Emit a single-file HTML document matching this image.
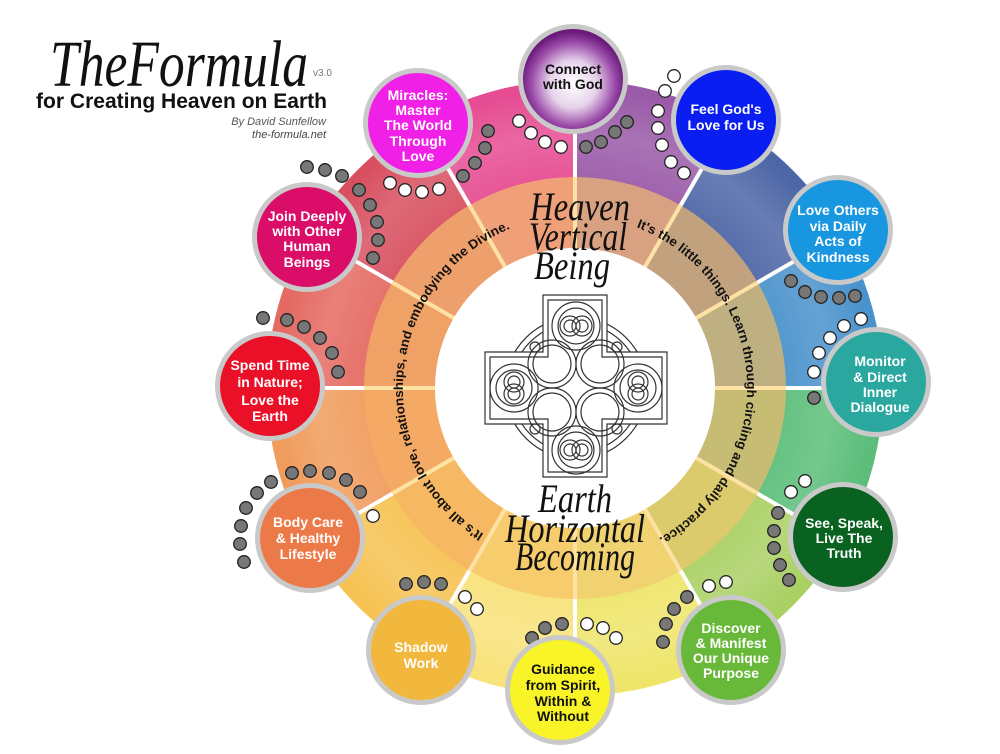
<!DOCTYPE html>
<html><head><meta charset="utf-8"><style>
html,body{margin:0;padding:0;background:#fff;}
svg{display:block;}
.n{font-family:"Liberation Sans","DejaVu Sans",sans-serif;font-weight:bold;font-size:14px;fill:#fff;text-anchor:middle;}
.nb{fill:#111;}
.arc{font-family:"Liberation Sans",sans-serif;font-weight:bold;font-size:13px;fill:#111;}
.scr{font-family:"Liberation Serif",serif;font-style:italic;fill:#111;text-anchor:middle;}
</style></head><body>
<svg width="1000" height="754" viewBox="0 0 1000 754" xmlns="http://www.w3.org/2000/svg">
<defs>
<radialGradient id="god" cx="50%" cy="55%" r="50%">
<stop offset="0" stop-color="#ffffff"/><stop offset="0.45" stop-color="#e6d2ea"/><stop offset="0.8" stop-color="#9a4aa8"/><stop offset="1" stop-color="#6a1a7a"/>
</radialGradient>
<radialGradient id="glow" cx="50%" cy="50%" r="50%">
<stop offset="0.6" stop-color="#fff" stop-opacity="0"/><stop offset="0.85" stop-color="#fff" stop-opacity="0.15"/><stop offset="1" stop-color="#fff" stop-opacity="0"/>
</radialGradient>
<path id="tp" d="M575,560 A172,172 0 1 1 575,216 A172,172 0 1 1 575,560"/>
</defs>

<!-- outer ring wedges -->
<g stroke="none">
<path d="M575,388 L575,80 A308,308 0 0 1 729,121.3Z" fill="#9a5aa8"/>
<path d="M575,388 L729,121.3 A308,308 0 0 1 841.7,234Z" fill="#4d66a6"/>
<path d="M575,388 L841.7,234 A308,308 0 0 1 883,388Z" fill="#4a92cc"/>
<path d="M575,388 L883,388 A308,308 0 0 1 841.7,542Z" fill="#5cbe7a"/>
<path d="M575,388 L841.7,542 A308,308 0 0 1 729,654.7Z" fill="#aad064"/>
<path d="M575,388 L729,654.7 A308,308 0 0 1 575,696Z" fill="#eee56a"/>
<path d="M575,388 L575,696 A308,308 0 0 1 421,654.7Z" fill="#f8e27a"/>
<path d="M575,388 L421,654.7 A308,308 0 0 1 308.3,542Z" fill="#f6c252"/>
<path d="M575,388 L308.3,542 A308,308 0 0 1 267,388Z" fill="#f09c5c"/>
<path d="M575,388 L267,388 A308,308 0 0 1 308.3,234Z" fill="#e46a62"/>
<path d="M575,388 L308.3,234 A308,308 0 0 1 421,121.3Z" fill="#d85060"/>
<path d="M575,388 L421,121.3 A308,308 0 0 1 575,80Z" fill="#e64c92"/>
</g>
<circle cx="575" cy="388" r="300" fill="url(#glow)"/>
<g stroke="#fff" stroke-width="4">
<line x1="575" y1="388" x2="575" y2="78"/><line x1="575" y1="388" x2="730" y2="120"/>
<line x1="575" y1="388" x2="843" y2="233"/><line x1="575" y1="388" x2="885" y2="388"/>
<line x1="575" y1="388" x2="843" y2="543"/><line x1="575" y1="388" x2="730" y2="656"/>
<line x1="575" y1="388" x2="575" y2="698"/><line x1="575" y1="388" x2="420" y2="656"/>
<line x1="575" y1="388" x2="307" y2="543"/><line x1="575" y1="388" x2="265" y2="388"/>
<line x1="575" y1="388" x2="307" y2="233"/><line x1="575" y1="388" x2="420" y2="120"/>
</g>
<!-- inner band -->
<g>
<path d="M575,388 L575,177 A211,211 0 0 1 680.5,205.3Z" fill="#d8a282"/>
<path d="M575,388 L680.5,205.3 A211,211 0 0 1 757.7,282.5Z" fill="#c2a27e"/>
<path d="M575,388 L757.7,282.5 A211,211 0 0 1 786,388Z" fill="#bfb082"/>
<path d="M575,388 L786,388 A211,211 0 0 1 757.7,493.5Z" fill="#c6bc74"/>
<path d="M575,388 L757.7,493.5 A211,211 0 0 1 680.5,570.7Z" fill="#dccb6c"/>
<path d="M575,388 L680.5,570.7 A211,211 0 0 1 575,599Z" fill="#f0d270"/>
<path d="M575,388 L575,599 A211,211 0 0 1 469.5,570.7Z" fill="#f7cc6c"/>
<path d="M575,388 L469.5,570.7 A211,211 0 0 1 392.3,493.5Z" fill="#f6b862"/>
<path d="M575,388 L392.3,493.5 A211,211 0 0 1 364,388Z" fill="#f4aa64"/>
<path d="M575,388 L364,388 A211,211 0 0 1 392.3,282.5Z" fill="#f0a266"/>
<path d="M575,388 L392.3,282.5 A211,211 0 0 1 469.5,205.3Z" fill="#eea06c"/>
<path d="M575,388 L469.5,205.3 A211,211 0 0 1 575,177Z" fill="#f0a078"/>
</g>
<g stroke="#fde2a4" stroke-width="4">
<line x1="575" y1="388" x2="575" y2="177"/><line x1="575" y1="388" x2="680.5" y2="205.3"/>
<line x1="575" y1="388" x2="757.7" y2="282.5"/><line x1="575" y1="388" x2="786" y2="388"/>
<line x1="575" y1="388" x2="757.7" y2="493.5"/><line x1="575" y1="388" x2="680.5" y2="570.7"/>
<line x1="575" y1="388" x2="575" y2="599"/><line x1="575" y1="388" x2="469.5" y2="570.7"/>
<line x1="575" y1="388" x2="392.3" y2="493.5"/><line x1="575" y1="388" x2="364" y2="388"/>
<line x1="575" y1="388" x2="392.3" y2="282.5"/><line x1="575" y1="388" x2="469.5" y2="205.3"/>
</g>
<circle cx="575" cy="388" r="140" fill="#fff"/>

<!-- curved text -->
<text class="arc"><textPath href="#tp" startOffset="96" textLength="378" lengthAdjust="spacingAndGlyphs">It's all about love, relationships, and embodying the Divine.</textPath></text>
<text class="arc"><textPath href="#tp" startOffset="603" textLength="390" lengthAdjust="spacingAndGlyphs">It's the little things. Learn through circling and daily practice.</textPath></text>

<!-- script words -->
<text class="scr" x="580" y="220" font-size="40" textLength="100" lengthAdjust="spacingAndGlyphs">Heaven</text>
<text class="scr" x="578" y="250" font-size="40" textLength="98" lengthAdjust="spacingAndGlyphs">Vertical</text>
<text class="scr" x="572" y="279" font-size="40" textLength="76" lengthAdjust="spacingAndGlyphs">Being</text>
<text class="scr" x="575" y="512" font-size="40" textLength="74" lengthAdjust="spacingAndGlyphs">Earth</text>
<text class="scr" x="575" y="542" font-size="40" textLength="140" lengthAdjust="spacingAndGlyphs">Horizontal</text>
<text class="scr" x="575" y="570" font-size="40" textLength="120" lengthAdjust="spacingAndGlyphs">Becoming</text>

<!-- celtic cross -->
<g fill="none" stroke="#333" stroke-width="1.2">
<circle cx="576" cy="388" r="71"/><circle cx="576" cy="388" r="65"/>
<path d="M543,295 H607 V352 H667 V424 H607 V477 H543 V424 H485 V352 H543 Z" fill="#fff"/>
<path d="M548,300 H602 V357 H662 V419 H602 V472 H548 V419 H490 V357 H548 Z"/>
<g>
<circle cx="576" cy="326" r="24"/><circle cx="576" cy="326" r="18"/>
<circle cx="570" cy="326" r="10"/><circle cx="582" cy="326" r="10"/><circle cx="570" cy="326" r="6"/><circle cx="582" cy="326" r="6"/>
<circle cx="576" cy="450" r="24"/><circle cx="576" cy="450" r="18"/>
<circle cx="570" cy="450" r="10"/><circle cx="582" cy="450" r="10"/><circle cx="570" cy="450" r="6"/><circle cx="582" cy="450" r="6"/>
<circle cx="514" cy="388" r="24"/><circle cx="514" cy="388" r="18"/>
<circle cx="514" cy="382" r="10"/><circle cx="514" cy="394" r="10"/><circle cx="514" cy="382" r="6"/><circle cx="514" cy="394" r="6"/>
<circle cx="638" cy="388" r="24"/><circle cx="638" cy="388" r="18"/>
<circle cx="638" cy="382" r="10"/><circle cx="638" cy="394" r="10"/><circle cx="638" cy="382" r="6"/><circle cx="638" cy="394" r="6"/>
<circle cx="552" cy="364" r="24"/><circle cx="600" cy="364" r="24"/><circle cx="552" cy="412" r="24"/><circle cx="600" cy="412" r="24"/>
<circle cx="552" cy="364" r="19"/><circle cx="600" cy="364" r="19"/><circle cx="552" cy="412" r="19"/><circle cx="600" cy="412" r="19"/>
<circle cx="535" cy="347" r="5"/><circle cx="617" cy="347" r="5"/><circle cx="535" cy="429" r="5"/><circle cx="617" cy="429" r="5"/>
</g>
</g>

<!-- dots -->
<g stroke="#222" stroke-width="1.3" fill="#777">
<circle cx="307" cy="167" r="6.3"/><circle cx="325" cy="170" r="6.3"/><circle cx="342" cy="176" r="6.3"/>
<circle cx="359" cy="190" r="6.3"/><circle cx="370" cy="205" r="6.3"/><circle cx="377" cy="222" r="6.3"/><circle cx="378" cy="240" r="6.3"/><circle cx="373" cy="258" r="6.3"/>
<circle cx="488" cy="131" r="6.3"/><circle cx="485" cy="148" r="6.3"/><circle cx="475" cy="163" r="6.3"/><circle cx="463" cy="176" r="6.3"/>
<circle cx="586" cy="147" r="6.3"/><circle cx="601" cy="142" r="6.3"/><circle cx="615" cy="132" r="6.3"/><circle cx="627" cy="122" r="6.3"/>
<circle cx="791" cy="281" r="6.3"/><circle cx="805" cy="292" r="6.3"/><circle cx="821" cy="297" r="6.3"/><circle cx="839" cy="298" r="6.3"/><circle cx="855" cy="296" r="6.3"/>
<circle cx="814" cy="398" r="6.3"/>
<circle cx="778" cy="513" r="6.3"/><circle cx="774" cy="531" r="6.3"/><circle cx="774" cy="548" r="6.3"/><circle cx="780" cy="565" r="6.3"/><circle cx="789" cy="580" r="6.3"/>
<circle cx="687" cy="597" r="6.3"/><circle cx="674" cy="609" r="6.3"/><circle cx="666" cy="624" r="6.3"/><circle cx="663" cy="642" r="6.3"/>
<circle cx="532" cy="638" r="6.3"/><circle cx="545" cy="628" r="6.3"/><circle cx="562" cy="624" r="6.3"/>
<circle cx="406" cy="584" r="6.3"/><circle cx="424" cy="582" r="6.3"/><circle cx="441" cy="584" r="6.3"/>
<circle cx="292" cy="473" r="6.3"/><circle cx="310" cy="471" r="6.3"/><circle cx="329" cy="473" r="6.3"/><circle cx="346" cy="480" r="6.3"/><circle cx="360" cy="492" r="6.3"/>
<circle cx="271" cy="482" r="6.3"/><circle cx="257" cy="493" r="6.3"/><circle cx="246" cy="508" r="6.3"/><circle cx="241" cy="526" r="6.3"/><circle cx="240" cy="544" r="6.3"/><circle cx="244" cy="562" r="6.3"/>
<circle cx="263" cy="318" r="6.3"/><circle cx="287" cy="320" r="6.3"/><circle cx="304" cy="327" r="6.3"/><circle cx="320" cy="338" r="6.3"/><circle cx="332" cy="353" r="6.3"/><circle cx="338" cy="372" r="6.3"/>
</g>
<g stroke="#222" stroke-width="1.3" fill="#fff">
<circle cx="390" cy="183" r="6.3"/><circle cx="405" cy="190" r="6.3"/><circle cx="422" cy="192" r="6.3"/><circle cx="439" cy="189" r="6.3"/>
<circle cx="519" cy="121" r="6.3"/><circle cx="531" cy="133" r="6.3"/><circle cx="545" cy="142" r="6.3"/><circle cx="561" cy="147" r="6.3"/>
<circle cx="674" cy="76" r="6.3"/><circle cx="665" cy="91" r="6.3"/><circle cx="658" cy="111" r="6.3"/><circle cx="658" cy="128" r="6.3"/><circle cx="662" cy="145" r="6.3"/><circle cx="671" cy="162" r="6.3"/><circle cx="684" cy="173" r="6.3"/>
<circle cx="861" cy="319" r="6.3"/><circle cx="844" cy="326" r="6.3"/><circle cx="830" cy="338" r="6.3"/><circle cx="819" cy="353" r="6.3"/><circle cx="814" cy="372" r="6.3"/>
<circle cx="791" cy="492" r="6.3"/><circle cx="805" cy="481" r="6.3"/>
<circle cx="709" cy="586" r="6.3"/><circle cx="726" cy="582" r="6.3"/>
<circle cx="587" cy="624" r="6.3"/><circle cx="603" cy="628" r="6.3"/><circle cx="616" cy="638" r="6.3"/>
<circle cx="465" cy="597" r="6.3"/><circle cx="477" cy="609" r="6.3"/>
<circle cx="373" cy="516" r="6.3"/>
</g>

<!-- nodes -->
<g stroke="#c9c9c9" stroke-width="5">
<circle cx="573" cy="79" r="52.5" fill="url(#god)"/>
<circle cx="726" cy="120" r="52.5" fill="#0a1ef2"/>
<circle cx="838" cy="230" r="52.5" fill="#1896e0"/>
<circle cx="876" cy="382" r="52.5" fill="#2aa8a0"/>
<circle cx="843" cy="537" r="52.5" fill="#0a6220"/>
<circle cx="731" cy="650" r="52.5" fill="#68b83a"/>
<circle cx="560" cy="690" r="52.5" fill="#f8f428"/>
<circle cx="421" cy="650" r="52.5" fill="#f2b83e"/>
<circle cx="310" cy="538" r="52.5" fill="#ec7a48"/>
<circle cx="270" cy="386" r="52.5" fill="#ea1028"/>
<circle cx="307" cy="237" r="52.5" fill="#da0e68"/>
<circle cx="418" cy="123" r="52.5" fill="#f020e6"/>
</g>

<text class="n nb" x="573" y="74">Connect</text><text class="n nb" x="573" y="89">with God</text>
<text class="n" x="726" y="114">Feel God's</text><text class="n" x="726" y="130">Love for Us</text>
<text class="n" x="838" y="215">Love Others</text><text class="n" x="838" y="231">via Daily</text><text class="n" x="838" y="246">Acts of</text><text class="n" x="838" y="262">Kindness</text>
<text class="n" x="880" y="366">Monitor</text><text class="n" x="880" y="382">&amp; Direct</text><text class="n" x="880" y="397">Inner</text><text class="n" x="880" y="412">Dialogue</text>
<text class="n" x="844" y="528">See, Speak,</text><text class="n" x="844" y="543">Live The</text><text class="n" x="844" y="558">Truth</text>
<text class="n" x="731" y="633">Discover</text><text class="n" x="731" y="648">&amp; Manifest</text><text class="n" x="731" y="663">Our Unique</text><text class="n" x="731" y="678">Purpose</text>
<text class="n nb" x="563" y="674">Guidance</text><text class="n nb" x="563" y="690">from Spirit,</text><text class="n nb" x="563" y="706">Within &amp;</text><text class="n nb" x="563" y="721">Without</text>
<text class="n" x="421" y="652">Shadow</text><text class="n" x="421" y="668">Work</text>
<text class="n" x="308" y="527">Body Care</text><text class="n" x="308" y="543">&amp; Healthy</text><text class="n" x="308" y="559">Lifestyle</text>
<text class="n" x="270" y="370">Spend Time</text><text class="n" x="270" y="387">in Nature;</text><text class="n" x="270" y="405">Love the</text><text class="n" x="270" y="421">Earth</text>
<text class="n" x="307" y="221">Join Deeply</text><text class="n" x="307" y="236">with Other</text><text class="n" x="307" y="251">Human</text><text class="n" x="307" y="267">Beings</text>
<text class="n" x="418" y="100">Miracles:</text><text class="n" x="418" y="115">Master</text><text class="n" x="418" y="130">The World</text><text class="n" x="418" y="146">Through</text><text class="n" x="418" y="161">Love</text>

<!-- title -->
<text x="50" y="86" font-family="Liberation Serif,serif" font-style="italic" font-size="66" fill="#111" textLength="258" lengthAdjust="spacingAndGlyphs">TheFormula</text>
<text x="313" y="76" font-family="Liberation Sans,sans-serif" font-size="10" fill="#777">v3.0</text>
<text x="36" y="108" font-family="Liberation Sans,sans-serif" font-weight="bold" font-size="21" fill="#111" textLength="291" lengthAdjust="spacingAndGlyphs">for Creating Heaven on Earth</text>
<text x="326" y="125" text-anchor="end" font-family="Liberation Sans,sans-serif" font-style="italic" font-size="11" fill="#555">By David Sunfellow</text>
<text x="326" y="138" text-anchor="end" font-family="Liberation Sans,sans-serif" font-style="italic" font-size="11" fill="#444">the-formula.net</text>
</svg>
</body></html>
